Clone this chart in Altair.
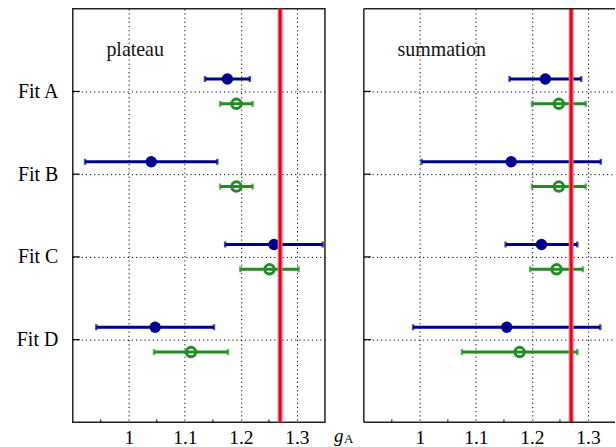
import altair as alt
import pandas as pd

# ---- data ----
fits = ["Fit A", "Fit B", "Fit C", "Fit D"]
fit_pos = [4, 3, 2, 1]
panel_names = ["plateau", "summation"]

plateau_blue = [1.176, 1.040, 1.259, 1.047]
plateau_blue_err = [0.040, 0.118, 0.087, 0.105]
plateau_green = [1.192, 1.192, 1.251, 1.111]
plateau_green_err = [0.029, 0.029, 0.052, 0.066]

summation_blue = [1.224, 1.163, 1.217, 1.155]
summation_blue_err = [0.064, 0.160, 0.064, 0.167]
summation_green = [1.248, 1.248, 1.244, 1.178]
summation_green_err = [0.048, 0.048, 0.047, 0.103]

ga_value = [1.27]
major_ticks = [1.0, 1.1, 1.2, 1.3]
minor_ticks = [0.95, 1.05, 1.15, 1.25]
axis_symbol = ["g", "A"]

# ---- styling ----
BLUE = "#00008b"
GREEN = "#228b22"
FONT = "'Liberation Serif', 'DejaVu Serif', serif"
H = 415
W1 = 253
W2 = 252
OFFSET = 0.15


def panel_df(blue, blue_err, green, green_err):
    rows = []
    for f, p, b, be, g, ge in zip(fits, fit_pos, blue, blue_err, green, green_err):
        rows.append(dict(fit=f, series="blue", y=p + OFFSET, c=b, lo=b - be, hi=b + be))
        rows.append(dict(fit=f, series="green", y=p - OFFSET, c=g, lo=g - ge, hi=g + ge))
    return pd.DataFrame(rows)


label_expr = " : ".join(
    f"datum.value == {p} ? '{f}'" for p, f in zip(fit_pos, fits)
) + " : ''"


def make_panel(df, name, width, xmax, left):
    xs = alt.Scale(domain=[0.9, xmax], nice=False, zero=False)
    ys = alt.Scale(domain=[0, 5], nice=False, zero=False)
    xaxis = alt.Axis(values=major_ticks, format="~g", grid=True, gridDash=[1.2, 3],
                     gridColor="#000", gridWidth=1, gridOpacity=1, ticks=False, domain=False,
                     labelFont=FONT, labelFontSize=19.5, labelPadding=6, labelColor="#000",
                     title=None)
    if left:
        yaxis = alt.Axis(values=fit_pos, labelExpr=label_expr, grid=True, gridDash=[1.2, 3],
                         gridColor="#000", gridWidth=1, gridOpacity=1, ticks=False, domain=False,
                         labelFont=FONT, labelFontSize=20, labelPadding=15, labelColor="#000",
                         title=None)
    else:
        yaxis = alt.Axis(values=fit_pos, labels=False, grid=True, gridDash=[1.2, 3],
                         gridColor="#000", gridWidth=1, gridOpacity=1, ticks=False, domain=False,
                         title=None, minExtent=0, maxExtent=0)

    color = alt.Color("series:N", scale=alt.Scale(domain=["blue", "green"], range=[BLUE, GREEN]),
                      legend=None)
    base = alt.Chart(df)
    Y = alt.Y("y:Q", scale=ys, axis=yaxis)

    bars = base.mark_rule(strokeWidth=3).encode(
        x=alt.X("lo:Q", scale=xs, axis=xaxis), x2="hi:Q", y=Y, color=color)
    cap_lo = base.mark_tick(orient="vertical", size=6, thickness=2.5).encode(
        x=alt.X("lo:Q", scale=xs, axis=xaxis), y=Y, color=color)
    cap_hi = base.mark_tick(orient="vertical", size=6, thickness=2.5).encode(
        x=alt.X("hi:Q", scale=xs, axis=xaxis), y=Y, color=color)
    blue_pts = base.transform_filter(alt.datum.series == "blue").mark_point(
        shape="circle", filled=True, size=130, opacity=1).encode(
        x=alt.X("c:Q", scale=xs, axis=xaxis), y=Y, color=color)
    green_pts = base.transform_filter(alt.datum.series == "green").mark_point(
        shape="circle", filled=False, size=90, strokeWidth=3, opacity=1).encode(
        x=alt.X("c:Q", scale=xs, axis=xaxis), y=Y, color=color)

    ga_df = pd.DataFrame({"ga": ga_value})
    red_glow = alt.Chart(ga_df).mark_rule(strokeWidth=5, color="#f0606e").encode(
        x=alt.X("ga:Q", scale=xs, axis=xaxis))
    red_core = alt.Chart(ga_df).mark_rule(strokeWidth=2.2, color="#e0001b").encode(
        x=alt.X("ga:Q", scale=xs, axis=xaxis))

    txt = alt.Chart(pd.DataFrame({"t": [name], "x": [0.96], "y": [4.5]})).mark_text(
        font=FONT, fontSize=20, align="left", baseline="middle", color="#111").encode(
        x=alt.X("x:Q", scale=xs, axis=xaxis), y=alt.Y("y:Q", scale=ys, axis=yaxis), text="t:N")

    ytick = alt.Chart(pd.DataFrame({"p": fit_pos})).mark_rule(color="#000", strokeWidth=1.2).encode(
        y=alt.Y("p:Q", scale=ys, axis=yaxis), x=alt.value(0), x2=alt.value(7))
    xtick = alt.Chart(pd.DataFrame({"m": minor_ticks})).mark_rule(color="#000", strokeWidth=1).encode(
        x=alt.X("m:Q", scale=xs, axis=xaxis), y=alt.value(H), y2=alt.value(H - 3))

    layers = [ytick, xtick, bars, cap_lo, cap_hi, blue_pts, green_pts, txt, red_glow, red_core]

    if left:
        sym = pd.DataFrame({"s": [axis_symbol[0]]})
        g_txt = alt.Chart(sym).mark_text(font=FONT, fontStyle="italic", fontSize=19,
                                         align="left", baseline="alphabetic", color="#000").encode(
            x=alt.value(262), y=alt.value(434.5), text="s:N")
        sub = pd.DataFrame({"s": [axis_symbol[1]]})
        a_txt = alt.Chart(sub).mark_text(font=FONT, fontSize=13, align="left",
                                         baseline="alphabetic", color="#000").encode(
            x=alt.value(272), y=alt.value(436), text="s:N")
        layers += [g_txt, a_txt]
        view = alt.ViewBackground(stroke="#222", strokeWidth=1.5)
    else:
        border = alt.Chart(pd.DataFrame({"k": [0]}))
        top = border.mark_rule(color="#222", strokeWidth=1.5).encode(
            x=alt.value(0), x2=alt.value(width), y=alt.value(0))
        lft = border.mark_rule(color="#222", strokeWidth=1.5).encode(
            x=alt.value(0), y=alt.value(0), y2=alt.value(H))
        bot = border.mark_rule(color="#222", strokeWidth=1.5).encode(
            x=alt.value(0), x2=alt.value(width), y=alt.value(H))
        layers += [top, lft, bot]
        view = alt.ViewBackground(strokeOpacity=0)

    return alt.layer(*layers).properties(width=width, height=H, view=view)


left = make_panel(panel_df(plateau_blue, plateau_blue_err, plateau_green, plateau_green_err),
                  panel_names[0], W1, 1.35, True)
right = make_panel(panel_df(summation_blue, summation_blue_err, summation_green, summation_green_err),
                   panel_names[1], W2, 0.9 + 0.45 * W2 / W1, False)

chart = alt.hconcat(left, right, spacing=39, bounds="flush").properties(
    padding={"left": 15, "top": 4, "right": 0, "bottom": 0},
    background="white",
).resolve_scale(x="independent", y="independent")

chart.save("out.html", embed_options={"renderer": "svg", "actions": False})
